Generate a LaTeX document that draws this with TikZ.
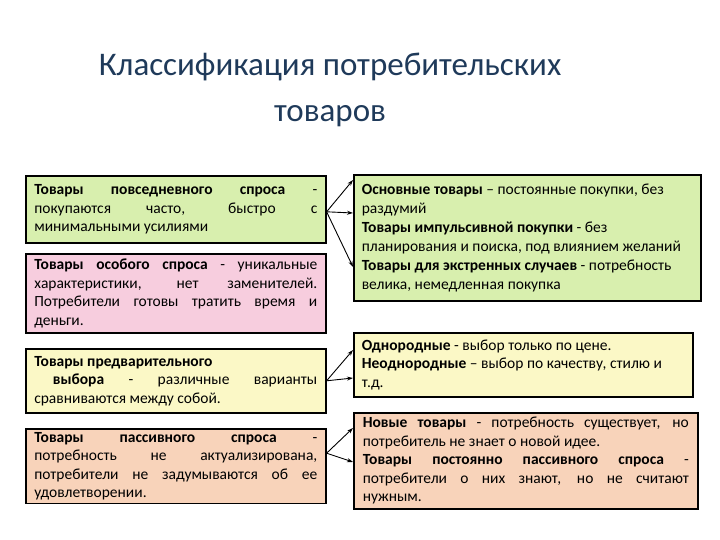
\documentclass[tikz,border=0pt]{standalone}
\usepackage{fontspec}
\setmainfont{Carlito}
\usetikzlibrary{positioning,arrows.meta}

\definecolor{titleblue}{HTML}{1F3A5A}
\definecolor{boxgreen}{HTML}{D8EFAE}
\definecolor{boxpink}{HTML}{F7CDDE}
\definecolor{boxyellow}{HTML}{FBF8C6}
\definecolor{boxpeach}{HTML}{F8D3BA}

\begin{document}
\begin{tikzpicture}[x=1pt, y=-1pt,
        box/.style={draw, line width=1.6pt, anchor=north west, inner xsep=8pt,
            font=\fontsize{15.5}{18.5}\selectfont},
        leftbox/.style={box, minimum width=300pt, text width=283pt, align=justify},
        rightbox/.style={box, align=flush left},
        link/.style={-{Stealth[length=6pt,width=4pt]}, line width=0.9pt},
        >=Stealth]
        \useasboundingbox (0,0) rectangle (720,540);
        \node[font=\fontsize{33}{46}\selectfont, text=titleblue, align=center] (title) at (330,90)
            {Классификация потребительских\\товаров};

        \node[leftbox, fill=boxgreen, minimum height=67pt] (daily) at (25,175)
            {\textbf{Товары повседневного спроса} -\linebreak покупаются часто, быстро с\linebreak минимальными усилиями};
        \node[leftbox, fill=boxpink, minimum height=79pt] (special) at (25,253)
            {\textbf{Товары особого спроса} - уникальные\linebreak характеристики, нет заменителей.\linebreak Потребители готовы тратить время и\linebreak деньги.};
        \node[leftbox, fill=boxyellow, minimum height=64pt] (preselect) at (25,348)
            {\textbf{Товары предварительного}\\\hspace*{1.2em}\textbf{выбора} - различные варианты\linebreak сравниваются между собой.};
        \node[leftbox, fill=boxpeach, minimum height=74pt] (passive) at (25,428)
            {\textbf{Товары пассивного спроса} -\linebreak потребность не актуализирована,\linebreak потребители не задумываются об ее\linebreak удовлетворении.};

        \node[rightbox, fill=boxgreen, minimum width=347pt, minimum height=126pt, text width=331pt,
            font=\fontsize{15.5}{19}\selectfont] (dailytypes) at (353,174)
            {\textbf{Основные товары} – постоянные покупки, без\\раздумий\\
             \textbf{Товары импульсивной покупки} - без\\планирования и поиска, под влиянием желаний\\
             \textbf{Товары для экстренных случаев} - потребность\\велика, немедленная покупка};
        \node[rightbox, fill=boxyellow, minimum width=339pt, minimum height=64pt, text width=323pt] (preseltypes) at (353,332)
            {\textbf{Однородные} - выбор только по цене.\\
             \textbf{Неоднородные} – выбор по качеству, стилю и\\т.д.};
        \node[box, fill=boxpeach, minimum width=344pt, minimum height=96pt, text width=326pt, align=justify] (passivetypes) at (353,412)
            {\textbf{Новые товары} - потребность существует, но\linebreak потребитель не знает о новой идее.\\
             \textbf{Товары постоянно пассивного спроса} -\linebreak потребители о них знают, но не считают\linebreak нужным.};

        \draw[link] ([yshift=-2.5pt]daily.east) -- ([yshift=-6pt]dailytypes.north west);
        \draw[link] ([yshift=-2.5pt]daily.east) -- ([yshift=-39pt]dailytypes.north west);
        \draw[link] ([yshift=-2.5pt]daily.east) -- ([yshift=-93pt]dailytypes.north west);
        \draw[link] (preselect.east) -- ([yshift=-18pt]preseltypes.north west);
        \draw[link] (preselect.east) -- ([yshift=-46pt]preseltypes.north west);
        \draw[link] ([yshift=13pt]passive.east) -- ([yshift=-16pt]passivetypes.north west);
        \draw[link] ([yshift=13pt]passive.east) -- ([yshift=-50pt]passivetypes.north west);
    \end{tikzpicture}
\end{document}
